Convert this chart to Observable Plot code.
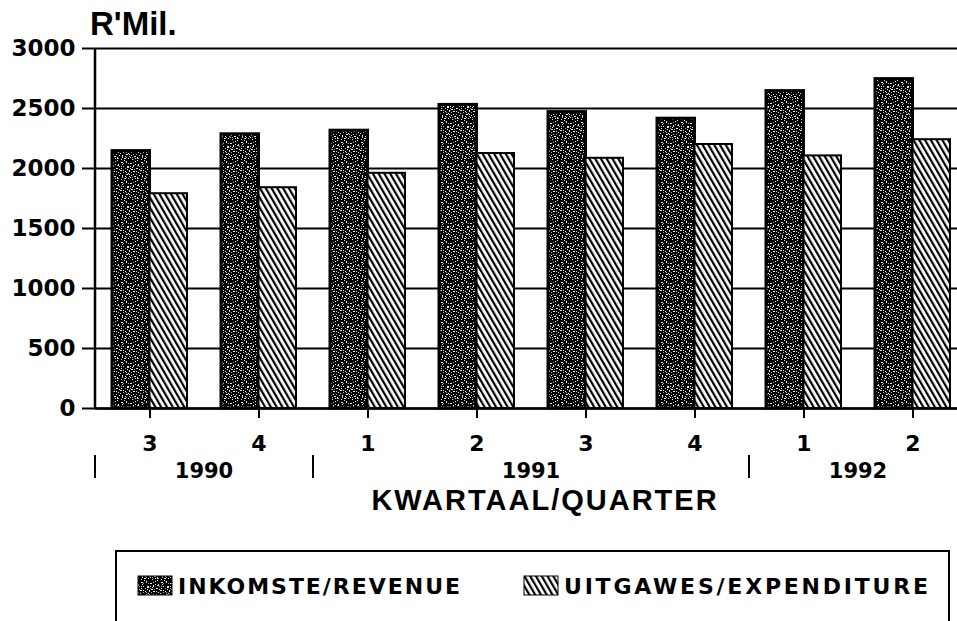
<!DOCTYPE html>
<html><head><meta charset="utf-8">
<script src="https://cdn.jsdelivr.net/npm/d3@7"></script>
<script src="https://cdn.jsdelivr.net/npm/@observablehq/plot@0.6"></script>
<style>
html,body{margin:0;padding:0;background:#fff;overflow:hidden}
#chart{width:957px;height:621px;position:relative}
</style></head><body><div id="chart"></div>
<script>
// ---- data ----
const quarters = ["1990 K3","1990 K4","1991 K1","1991 K2","1991 K3","1991 K4","1992 K1","1992 K2"];
const quarterLabels = ["3","4","1","2","3","4","1","2"];
const quarterYears = ["1990","1990","1991","1991","1991","1991","1992","1992"];
const revenue = [2145, 2285, 2315, 2530, 2470, 2415, 2645, 2745];
const expenditure = [1790, 1840, 1960, 2125, 2085, 2200, 2105, 2240];
const yTicks = [0, 500, 1000, 1500, 2000, 2500, 3000];
const seriesNames = ["INKOMSTE/REVENUE", "UITGAWES/EXPENDITURE"];
const yTitle = "R'Mil.";
const xTitle = "KWARTAAL/QUARTER";

(function () {
const data = quarters.map((q, i) => ({quarter: q, revenue: revenue[i], expenditure: expenditure[i]}));
const labelOf = new Map(quarters.map((q, i) => [q, quarterLabels[i]]));

const W = 957, H = 621;
const plot = Plot.plot({
  width: W, height: H,
  marginTop: 48, marginBottom: 213, marginLeft: 95, marginRight: 0,
  style: {fontFamily: "'DejaVu Sans', sans-serif", fontWeight: "bold", color: "#000", background: "#fff", overflow: "visible"},
  x: {domain: quarters, range: [95, 967], padding: 0, label: null},
  y: {domain: [0, 3000], label: null},
  marks: [
    Plot.ruleY(yTicks, {stroke: "#000", strokeWidth: 2}),
    Plot.barY(data, {x: "quarter", y: "revenue", fill: "url(#pat-rev)", stroke: "#000", strokeWidth: 3, insetLeft: 17, insetRight: 54.5}),
    Plot.barY(data, {x: "quarter", y: "expenditure", fill: "url(#pat-exp)", stroke: "#000", strokeWidth: 2, insetLeft: 54.5, insetRight: 17}),
    Plot.ruleY([0], {stroke: "#000", strokeWidth: 2.5}),
    Plot.axisY({ticks: yTicks, tickFormat: d => String(d), tickSize: 13, tickPadding: 7, fontSize: 23, label: null, strokeWidth: 2}),
    Plot.axisX({tickFormat: d => labelOf.get(d), tickSize: 10, tickPadding: 17, fontSize: 22, label: null, strokeWidth: 2})
  ]
});
document.getElementById("chart").appendChild(plot);

const svg = d3.select(plot);
const xs = plot.scale("x"), ys = plot.scale("y");
const bw = xs.bandwidth;
const xLeft = xs.range[0];
const yBase = ys.apply(0), yTop = ys.apply(3000);

// patterns
const defs = svg.insert("defs", ":first-child");
const pr = defs.append("pattern").attr("id", "pat-rev").attr("patternUnits", "userSpaceOnUse").attr("width", 20).attr("height", 20);
pr.append("rect").attr("width", 20).attr("height", 20).attr("fill", "#000");
pr.append("path").attr("fill", "#fff").attr("opacity", 0.9)
  .attr("d", "M1 2h2v1h-2z M6 1h1v2h-1z M10 3h2v1h-2z M15 1h1v1h-1z M18 4h1v2h-1z M3 6h1v1h-1z M7 6h2v2h-2z M12 7h1v1h-1z M16 8h2v1h-2z M0 10h2v1h-2z M5 11h1v1h-1z M9 10h1v2h-1z M13 11h2v1h-2z M18 12h1v1h-1z M2 15h1v2h-1z M6 14h2v1h-2z M11 15h1v1h-1z M14 16h2v1h-2z M17 17h1v2h-1z M4 18h2v1h-2z M8 18h1v1h-1z M12 19h1v1h-1z M1 8h1v1h-1z M10 6h1v1h-1z M15 4h1v1h-1z M8 13h1v1h-1z M19 15h1v1h-1z M4 0h1v1h-1z M17 0h1v1h-1z M2 4h1v1h-1z M13 5h1v2h-1z M19 9h1v1h-1z M7 9h1v1h-1z M11 9h2v1h-2z M3 10h1v1h-1z M16 11h1v1h-1z M0 13h1v1h-1z M5 16h1v1h-1z M9 14h1v1h-1z M13 14h1v1h-1z M15 18h1v1h-1z M1 19h1v1h-1z M10 17h1v1h-1z");
pr.append("path").attr("fill", "#aaa")
  .attr("d", "M3 3h1v1h-1z M13 2h1v1h-1z M5 8h1v1h-1z M14 9h1v1h-1z M3 12h1v1h-1z M16 14h1v1h-1z M9 16h1v1h-1z M19 6h1v1h-1z M11 12h1v1h-1z M6 17h1v1h-1z M8 3h1v1h-1z M17 5h1v1h-1z M1 6h1v1h-1z M10 8h1v1h-1z M6 12h1v1h-1z M18 18h1v1h-1z M12 17h1v1h-1z M2 17h1v1h-1z");
const pe = defs.append("pattern").attr("id", "pat-exp").attr("patternUnits", "userSpaceOnUse").attr("width", 5).attr("height", 10).attr("patternTransform", "rotate(-30)");
pe.append("rect").attr("width", 5).attr("height", 10).attr("fill", "#fff");
pe.append("rect").attr("width", 2.2).attr("height", 10).attr("fill", "#000");

const g = svg.append("g").attr("text-anchor", "start");
// y axis line
g.append("line").attr("x1", xLeft).attr("x2", xLeft).attr("y1", yTop).attr("y2", yBase).attr("stroke", "#000").attr("stroke-width", 2.5);

// title
g.append("text").attr("x", 90).attr("y", 35).attr("text-anchor", "start").attr("font-family", "'Liberation Sans', Arial, sans-serif")
  .attr("font-weight", "bold").attr("font-size", 33).text(yTitle);

// years
const years = Array.from(new Set(quarterYears));
years.forEach(yr => {
  const idx = quarterYears.map((v, i) => v === yr ? i : -1).filter(i => i >= 0);
  const a = xs.apply(quarters[idx[0]]);
  const b = xs.apply(quarters[idx[idx.length - 1]]) + bw;
  g.append("line").attr("x1", a).attr("x2", a).attr("y1", yBase + 47).attr("y2", yBase + 70).attr("stroke", "#000").attr("stroke-width", 2);
  g.append("text").attr("x", (a + b) / 2).attr("y", yBase + 70).attr("text-anchor", "middle")
    .attr("font-size", 21).attr("font-weight", "bold").text(yr);
});

// x title
g.append("text").attr("x", 545).attr("y", yBase + 102).attr("text-anchor", "middle")
  .attr("font-family", "'Liberation Sans', Arial, sans-serif").attr("font-weight", "bold")
  .attr("font-size", 29).attr("letter-spacing", 2).text(xTitle);

// legend
g.append("rect").attr("x", 116).attr("y", 551).attr("width", 833).attr("height", 100)
  .attr("fill", "none").attr("stroke", "#000").attr("stroke-width", 2);
const legendItems = [
  {name: seriesNames[0], fill: "url(#pat-rev)", sx: 138, tx: 178, tw: 282},
  {name: seriesNames[1], fill: "url(#pat-exp)", sx: 524, tx: 564, tw: 364}
];
legendItems.forEach(it => {
  g.append("rect").attr("x", it.sx).attr("y", 576).attr("width", 34).attr("height", 19)
    .attr("fill", it.fill).attr("stroke", "#000").attr("stroke-width", 1);
  g.append("text").attr("x", it.tx).attr("y", 594).attr("text-anchor", "start").attr("font-size", 22).attr("font-weight", "bold")
    .attr("textLength", it.tw).attr("lengthAdjust", "spacing").text(it.name);
});
})();
</script>
</body></html>
